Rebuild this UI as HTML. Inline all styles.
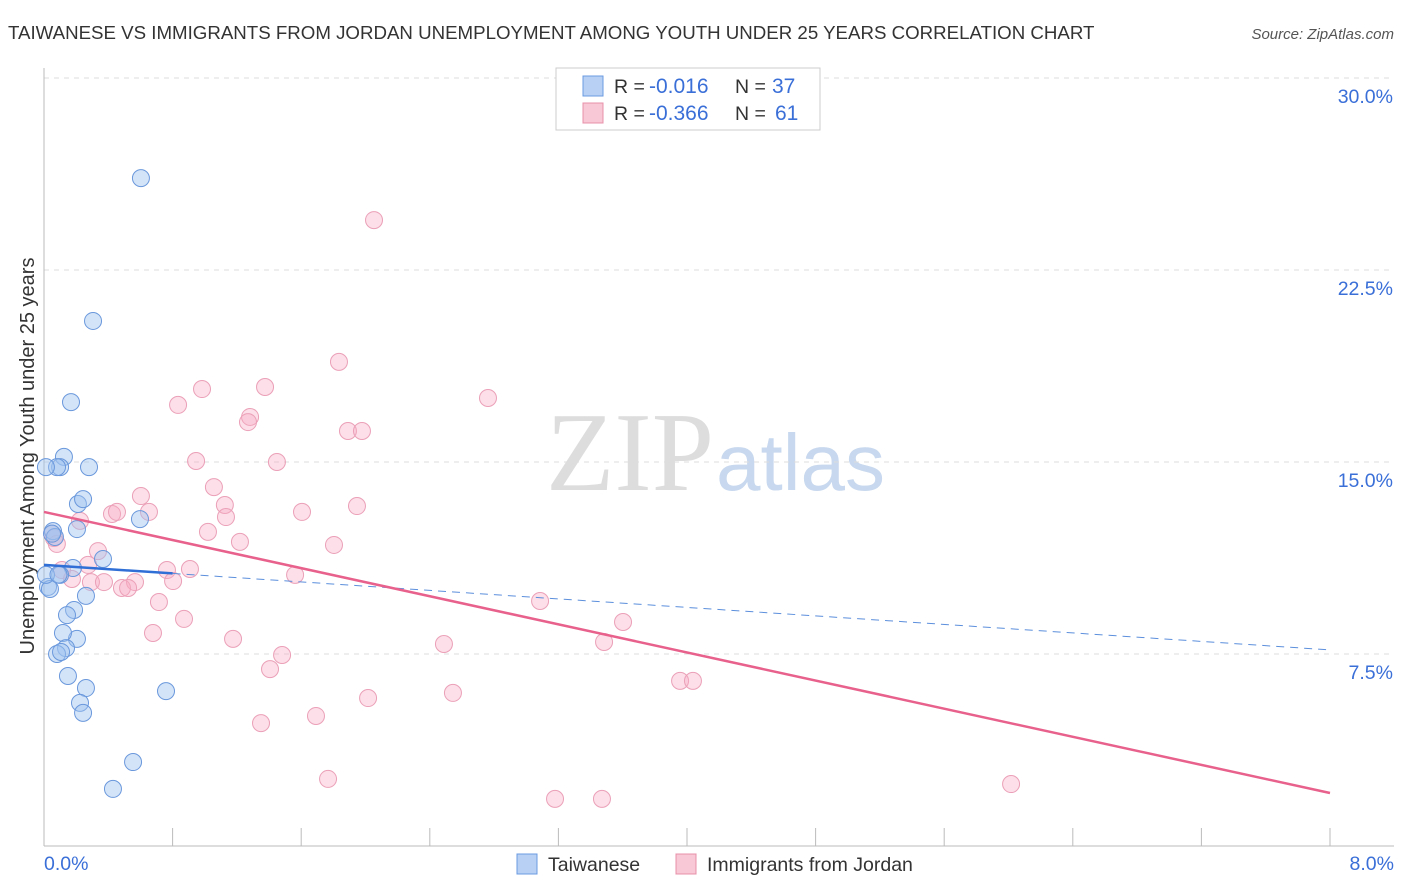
<!DOCTYPE html>
<html><head><meta charset="utf-8"><style>
body{margin:0;background:#fff;font-family:"Liberation Sans",sans-serif;}
#c{position:relative;width:1406px;height:892px;overflow:hidden}
</style></head><body>
<div id="c">
<svg id="s" width="1406" height="892" xmlns="http://www.w3.org/2000/svg">
<text x="8" y="39" font-size="18.7" fill="#333">TAIWANESE VS IMMIGRANTS FROM JORDAN UNEMPLOYMENT AMONG YOUTH UNDER 25 YEARS CORRELATION CHART</text>
<text x="1394" y="39" font-size="15" fill="#555" font-style="italic" text-anchor="end">Source: ZipAtlas.com</text>
<text x="714" y="490" font-size="112" font-family="Liberation Serif,serif" fill="#ddd" text-anchor="end">ZIP</text>
<text x="716" y="490" font-size="80" fill="#c8d8ee">atlas</text>
<text transform="translate(34,456) rotate(-90)" font-size="20" fill="#333" text-anchor="middle">Unemployment Among Youth under 25 years</text>
<g id="grid"></g><g id="pts"></g><g id="lines"></g>
<g>
<rect x="556" y="68" width="264" height="62" fill="#fff" stroke="#ccc"/>
<rect x="583" y="76" width="20" height="20" fill="#b8d0f4" stroke="#6a9be0"/>
<text x="614" y="93" font-size="19.5" fill="#333">R =</text>
<text x="649" y="93" font-size="21" fill="#3a6fd8">-0.016</text>
<text x="735" y="93" font-size="19.5" fill="#333">N =</text>
<text x="772" y="93" font-size="21" fill="#3a6fd8">37</text>
<rect x="583" y="103" width="20" height="20" fill="#f9c8d6" stroke="#e890a8"/>
<text x="614" y="120" font-size="19.5" fill="#333">R =</text>
<text x="649" y="120" font-size="21" fill="#3a6fd8">-0.366</text>
<text x="735" y="120" font-size="19.5" fill="#333">N =</text>
<text x="775" y="120" font-size="21" fill="#3a6fd8">61</text>
</g>
<g>
<rect x="517" y="854" width="20" height="20" fill="#b8d0f4" stroke="#6a9be0"/>
<text x="548" y="871" font-size="19.5" fill="#333">Taiwanese</text>
<rect x="676" y="854" width="20" height="20" fill="#f9c8d6" stroke="#e890a8"/>
<text x="707" y="871" font-size="19.5" fill="#333">Immigrants from Jordan</text>
</g>
</svg>
</div>
<script>
const xTicks=[0,1,2,3,4,5,6,7,8];
const yTicks=[7.5,15,22.5,30];
const blueX=[0.603,0.305,0.168,0.124,0.100,0.081,0.012,0.280,0.211,0.243,0.205,0.597,0.056,0.068,0.367,0.180,0.100,0.025,0.037,0.261,0.187,0.143,0.205,0.118,0.137,0.081,0.106,0.149,0.261,0.759,0.224,0.243,0.554,0.429,0.012,0.05,0.09];
const blueY=[26.09,20.51,17.34,15.20,14.8,14.8,14.8,14.8,13.36,13.55,12.38,12.77,12.3,12.07,11.21,10.86,10.59,10.12,10.04,9.77,9.22,9.02,8.09,8.32,7.73,7.5,7.58,6.64,6.17,6.05,5.59,5.20,3.28,2.23,10.59,12.2,10.6];
const pinkX=[2.053,1.835,2.762,1.375,0.983,0.834,1.282,1.269,1.891,1.978,0.946,1.449,1.057,0.603,1.125,1.947,1.605,0.423,0.454,0.653,1.132,0.224,1.020,0.062,1.219,1.804,0.336,0.274,0.765,0.908,1.562,0.112,0.174,0.292,0.373,0.566,0.803,0.485,0.523,0.715,3.086,0.871,3.602,0.678,1.176,2.488,3.484,1.481,1.406,2.544,2.016,3.957,4.037,1.692,1.350,1.767,3.179,3.471,6.016,0.05,0.08];
const pinkY=[24.45,18.91,17.50,17.93,17.85,17.23,16.76,16.56,16.21,16.21,15.04,15.0,14.02,13.67,13.32,13.28,13.05,12.97,13.05,13.05,12.85,12.70,12.27,12.03,11.88,11.76,11.52,10.98,10.78,10.82,10.59,10.78,10.43,10.31,10.31,10.31,10.35,10.08,10.08,9.53,9.57,8.87,8.75,8.32,8.09,7.89,7.97,7.46,6.91,5.98,5.78,6.45,6.45,5.08,4.80,2.62,1.84,1.84,2.42,12.2,11.8];
const pinkTrend=[13.05,2.07];
const blueTrend=[10.98,7.66];
const NS="http://www.w3.org/2000/svg";
const X=v=>44+v/8*1286, Y=v=>846-v/30*768;
function mk(t,a,p){const e=document.createElementNS(NS,t);for(const k in a)e.setAttribute(k,a[k]);p.appendChild(e);return e;}
const g=document.getElementById('grid');
yTicks.forEach(v=>{
 const l=mk('line',{x1:44,x2:1394,y1:Y(v),y2:Y(v),stroke:'#ddd','stroke-dasharray':'5,5'},g);
 
 
 const t=mk('text',{x:1393,y:Y(v)+25,'font-size':19.5,fill:'#3a6fd8','text-anchor':'end'},g);t.textContent=v.toFixed(1)+'%';
 
 
});
const ax=mk('line',{x1:44,x2:1394,y1:846,y2:846,stroke:'#bbb'},g);


const ay=mk('line',{x1:44,x2:44,y1:68,y2:846,stroke:'#bbb'},g);


for(let i=0;i<=10;i++){const x=44+i*128.6;const t=mk('line',{x1:x,x2:x,y1:828,y2:846,stroke:'#bbb'},g);
 
 }
[[0,'start'],[8,'end']].forEach(([v,a])=>{const t=mk('text',{x:v?1394:44,y:870,'font-size':19.5,fill:'#3a6fd8','text-anchor':a},g);t.textContent=v.toFixed(1)+'%';
 
 });
const p=document.getElementById('pts');
pinkX.forEach((x,i)=>{const c=mk('circle',{cx:X(x),cy:Y(pinkY[i]),r:8.5,fill:'rgba(246,170,195,0.38)',stroke:'#eba0b8','stroke-width':1},p);
 
 });
blueX.forEach((x,i)=>{const c=mk('circle',{cx:X(x),cy:Y(blueY[i]),r:8.5,fill:'rgba(160,195,240,0.45)',stroke:'#6a98dc','stroke-width':1},p);
 
 });
const L=document.getElementById('lines');
const bs=blueTrend[0]+(blueTrend[1]-blueTrend[0])*(0.8/8);
const l1=mk('line',{x1:X(0),y1:Y(blueTrend[0]),x2:X(0.8),y2:Y(bs),stroke:'#2f6fd6','stroke-width':2.5},L);


const l2=mk('line',{x1:X(0.8),y1:Y(bs),x2:X(8),y2:Y(blueTrend[1]),stroke:'#5c8fdc','stroke-width':1,'stroke-dasharray':'8,6'},L);


const l3=mk('line',{x1:X(0),y1:Y(pinkTrend[0]),x2:X(8),y2:Y(pinkTrend[1]),stroke:'#e8608c','stroke-width':2.5},L);


</script>
</body></html>
